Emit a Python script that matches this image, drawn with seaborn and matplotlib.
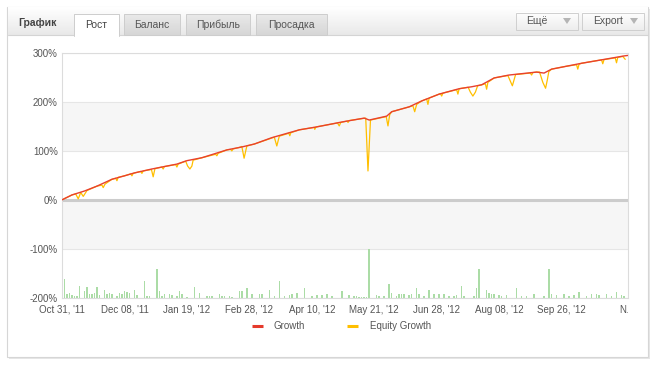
import numpy as np
import matplotlib
matplotlib.use("Agg")
import matplotlib.pyplot as plt
import seaborn as sns
from matplotlib.patches import Rectangle, Polygon
from matplotlib.colors import LinearSegmentedColormap

# x axis is point index, labels every 25 points
tick_pos = [0, 25, 50, 75, 100, 125, 150, 175, 200, 225]
tick_labels = ["Oct 31, '11", "Dec 08, '11", "Jan 19, '12", "Feb 28, '12", "Apr 10, '12",
               "May 21, '12", "Jun 28, '12", "Aug 08, '12", "Sep 26, '12", "N."]
y_ticks = [300, 200, 100, 0, -100, -200]
y_labels = ["300%", "200%", "100%", "0%", "-100%", "-200%"]

growth_x = [0, 4, 9, 14, 20, 25, 29, 36, 40, 46, 50, 56, 61, 66, 72, 77, 84, 95, 102, 112,
            121, 123, 130, 132, 139, 144, 151, 159, 164, 168, 173, 179, 190, 193, 196, 202,
            208, 216, 225, 226.5]
growth_y = [0, 10, 18, 28, 42, 49, 55, 63, 67, 73, 80, 86, 94, 102, 108, 114, 127, 143, 149, 159,
            167, 163, 171, 180, 190, 202, 216, 227, 231, 235, 249, 255, 261, 259, 267, 273,
            279, 286, 294, 295]

equity_x = [0, 4, 5.5, 6.5, 7.5, 8.5, 10, 14, 16, 16.5, 17.2, 20, 21.5, 22, 22.5, 25, 27.5, 28,
            28.5, 31.5, 32, 32.5, 35.8, 36.5, 37.2, 40, 40.5, 41, 45.5, 46, 46.5, 49.5, 50.3,
            51.2, 52, 52.5, 56, 61.5, 62, 62.5, 66, 67.5, 68, 68.5, 71, 72, 72.9, 74, 77, 85,
            86, 87, 90.8, 91.2, 91.6, 95, 101, 101.2, 101.7, 110.3, 111, 111.6, 114.2, 114.5,
            115, 121.6, 122.5, 123.5, 129.8, 130.5, 131.2, 132, 139, 140.5, 141.2, 142, 144,
            146, 146.5, 147, 151.5, 152, 152.5, 158, 158.5, 159, 162.6, 163.5, 164.5, 165.5,
            166.4, 168, 169.5, 170, 170.5, 173, 178.5, 180.3, 181.6, 187.5, 188, 188.5, 190,
            191.2, 192.5, 193.6, 194.3, 194.9, 196, 202, 206, 206.5, 207, 208, 216, 216.5,
            217, 221.5, 222, 222.5, 224.5, 225.5]
equity_y = [0, 10, 12, 2, 15, 7, 19, 28, 30, 25, 32, 42, 44, 39, 46, 49, 53, 49,
            54, 58, 54, 59, 62, 47, 63.5, 67, 63, 68, 72, 67, 73, 79, 69,
            63, 69, 81, 86, 93, 90, 95, 102, 103, 100, 104, 107, 109, 85, 110, 114, 128,
            110, 130, 136, 131, 137, 143, 148, 144, 149, 157, 151, 158, 161, 158,
            162, 167, 59, 163, 170, 151, 174, 180, 190, 192, 180, 195, 202,
            206, 195, 208, 217, 212, 218, 225, 216, 227, 230, 220, 212, 220,
            233, 235, 237, 226, 240, 249, 254, 233, 256, 259, 255, 260, 261,
            261, 240, 228, 245, 262, 267, 273, 276, 267, 277, 279, 286, 278,
            286.5, 290, 280, 291, 293, 287]

bar_x = [1, 2, 3, 4, 5, 6, 7, 9, 10, 11, 12, 13, 14, 15, 17, 18, 19, 20, 22, 23, 24, 25, 26,
         27, 29, 30, 33, 34, 35, 38, 39, 40, 41, 43, 44, 46, 47, 48, 50, 53, 55, 58, 59, 60,
         63, 64, 65, 67, 68, 71, 72, 74, 76, 79, 80, 83, 85, 87, 89, 91, 92, 94, 97, 100,
         102, 104, 106, 108, 112, 115, 117, 118, 119, 120, 121, 122, 123, 126, 127, 129,
         131, 132, 134, 135, 136, 137, 139, 140, 142, 143, 145, 147, 149, 151, 153, 155,
         157, 158, 160, 161, 165, 166, 167, 170, 171, 172, 173, 175, 176, 178, 182, 184,
         186, 189, 193, 195, 196, 198, 201, 203, 205, 207, 210, 212, 214, 215, 218, 220,
         222, 224, 225]
bar_h = [38, 7, 10, 5, 3, 3, 23, 13, 21, 7, 7, 10, 21, 5, 15, 7, 10, 7, 3, 10, 7, 13, 11,
         10, 15, 5, 35, 3, 3, 59, 13, 3, 8, 8, 5, 3, 13, 8, 2, 21, 10, 3, 3, 3,
         8, 3, 3, 3, 2, 13, 13, 20, 8, 7, 8, 15, 3, 35, 3, 5, 8, 10, 20, 3,
         5, 5, 8, 3, 13, 5, 3, 3, 2, 2, 2, 2, 100, 5, 3, 3,
         29, 10, 3, 8, 8, 8, 5, 7, 20, 8, 3, 15, 8, 8, 8, 3,
         3, 5, 23, 3, 3, 20, 59, 15, 10, 8, 7, 5, 3, 5, 20, 3,
         3, 8, 3, 59, 7, 5, 7, 3, 5, 12, 3, 8, 7, 5, 8, 3,
         12, 5, 3]

W, H = 657, 366
fig = plt.figure(figsize=(W / 100, H / 100), dpi=100)
sns.set_style("white")
plt.rcParams['font.family'] = ['Liberation Sans', 'DejaVu Sans']

# background layer in pixel coordinates
bg = fig.add_axes([0, 0, 1, 1], zorder=0)
bg.axis('off')

bg.add_patch(Rectangle((9, 9), 641, 350, facecolor='#e6e6e6', edgecolor='none'))
bg.add_patch(Rectangle((7, 7), 641, 350, facecolor='white', edgecolor='#d6d6d6', lw=0.8))

grad = LinearSegmentedColormap.from_list('g', ['#ffffff', '#e9e9e9'])
bg.imshow(np.linspace(0, 1, 50).reshape(-1, 1), extent=(7.5, 647.5, 35, 7.5), cmap=grad,
          aspect='auto', origin='upper', zorder=1)
bg.plot([7.5, 74], [35, 35], color='#d4d4d4', lw=0.8, zorder=2)
bg.plot([119, 647.5], [35, 35], color='#d4d4d4', lw=0.8, zorder=2)

tabgrad = LinearSegmentedColormap.from_list('t', ['#eaeaea', '#d6d6d6'])
for x0, x1, name in [(124, 180, "Баланс"), (186, 250, "Прибыль"), (256, 327, "Просадка")]:
    bg.imshow(np.linspace(0, 1, 30).reshape(-1, 1), extent=(x0, x1, 35, 14), cmap=tabgrad,
              aspect='auto', origin='upper', zorder=2)
    bg.add_patch(Rectangle((x0, 14), x1 - x0, 21, facecolor='none', edgecolor='#cdcdcd',
                           lw=0.7, zorder=3))
    bg.text((x0 + x1) / 2, 24.5, name, ha='center', va='center', fontsize=7.5, color='#555555',
            zorder=4)

bg.add_patch(Rectangle((74, 13.5), 45, 22, facecolor='white', edgecolor='none', zorder=3))
bg.plot([74, 74, 119, 119], [35.5, 13.5, 13.5, 35.5], color='#cdcdcd', lw=0.7, zorder=4)
bg.text(96.5, 24.5, "Рост", ha='center', va='center', fontsize=7.5, color='#444444', zorder=5)
bg.text(18, 23.5, "График", ha='left', va='center', fontsize=7.5, fontweight='bold',
        color='#444444', zorder=5)

btngrad = LinearSegmentedColormap.from_list('b', ['#ffffff', '#eeeeee'])
for x0, x1, name, tx, trx in [(516, 578, "Ещё", 537, 567), (582, 644, "Export", 608, 634)]:
    bg.imshow(np.linspace(0, 1, 30).reshape(-1, 1), extent=(x0, x1, 29.5, 12.5), cmap=btngrad,
              aspect='auto', origin='upper', zorder=2)
    bg.add_patch(Rectangle((x0, 12.5), x1 - x0, 17, facecolor='none', edgecolor='#cfcfcf',
                           lw=0.7, zorder=3))
    bg.text(tx, 21, name, ha='center', va='center', fontsize=7.5, color='#555555', zorder=4)
    bg.add_patch(Polygon([[trx - 4, 18], [trx + 4, 18], [trx, 24]], closed=True,
                         facecolor='#b5b5b5', edgecolor='none', zorder=4))

# legend
bg.plot([252, 263], [325.7, 325.7], color='#e53a2c', lw=2.2, solid_capstyle='butt', zorder=3)
bg.text(274, 325.7, "Growth", ha='left', va='center', fontsize=7, color='#555555', zorder=3)
bg.plot([347, 358], [325.7, 325.7], color='#ffbf00', lw=2.2, solid_capstyle='butt', zorder=3)
bg.text(370, 325.7, "Equity Growth", ha='left', va='center', fontsize=7, color='#555555', zorder=3)

bg.set_xlim(0, W)
bg.set_ylim(H, 0)

# main chart
top, bottom = 53, 297.7
ax = fig.add_axes([62 / W, (H - bottom) / H, 566 / W, (bottom - top) / H], zorder=1)
ax.set_facecolor('white')

ax.axhspan(100, 200, color='#f6f6f6', lw=0, zorder=0)
ax.axhspan(-100, 0, color='#f6f6f6', lw=0, zorder=0)
for yv in [300, 200, 100, -100, -200]:
    ax.axhline(yv, color='#e6e6e6', lw=0.8, zorder=0.5)
ax.axhline(0, color='#cccccc', lw=2.2, zorder=0.6)

ax.bar(bar_x, bar_h, bottom=-200, width=0.6, color='#abdca6', lw=0, zorder=1)

sns.lineplot(x=equity_x, y=equity_y, ax=ax, color='#ffbf00', lw=0.9, estimator=None,
             sort=False, zorder=2)
sns.lineplot(x=growth_x, y=growth_y, ax=ax, color='#e8402f', lw=1.0, estimator=None,
             sort=False, zorder=3)

ax.set_xlim(0, 226.6)
ax.set_ylim(-200, 300)
ax.set_xticks(tick_pos)
ax.set_xticklabels(tick_labels)
ax.set_yticks(y_ticks)
ax.set_yticklabels(y_labels)
ax.tick_params(axis='both', length=0, labelsize=7, labelcolor='#555555')
ax.tick_params(axis='y', pad=3)
ax.tick_params(axis='x', pad=5)
ax.set_xlabel("")
ax.set_ylabel("")
for s in ax.spines.values():
    s.set_color('#dcdcdc')
    s.set_linewidth(0.8)

fig.savefig("out.png", dpi=100)
